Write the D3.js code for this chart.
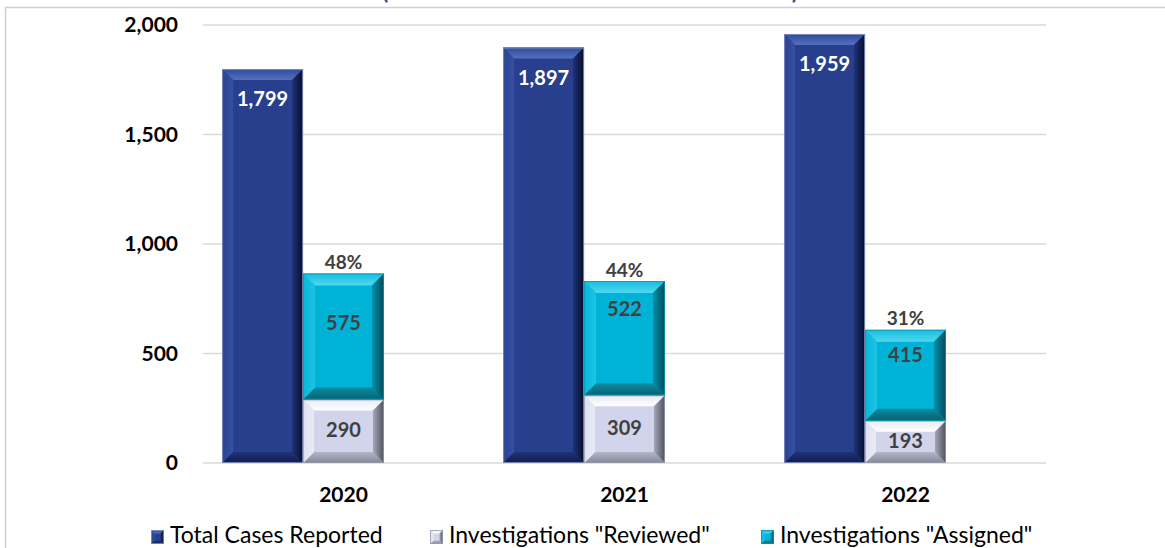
<!DOCTYPE html>
<html>
<head>
<meta charset="utf-8">
<script src="https://cdn.jsdelivr.net/npm/d3@7"></script>
<style>
  body { margin: 0; background: #fff; }
  text { font-family: Lato, 'Open Sans', sans-serif; }
</style>
</head>
<body>
<div id="chart"></div>
<script>
const width = 1165;
const height = 548;

// data
const years = ['2020', '2021', '2022'];
const totalCases = [1799, 1897, 1959];
const reviewed = [290, 309, 193];
const assigned = [575, 522, 415];
const yTicks = [0, 500, 1000, 1500, 2000];
const seriesNames = ['Total Cases Reported', 'Investigations "Reviewed"', 'Investigations "Assigned"'];

// where the "assigned" labels sit, px below the top of the segment
const assignedLabelOffset = [48, 27, 24];

const palettes = [
  {id: 'tot', face: '#283f8e', top: ['#2f4a9c', '#5470bd'], left: ['#2a4393', '#3550a2'], right: ['#070d2c', '#1e3276'], bottom: ['#101c4e', '#1f3478'], stroke: '#8e98c2'},
  {id: 'rev', face: '#d1d4ea', top: ['#e9ebf6', '#ffffff'], left: ['#dfe1f1', '#e8eaf5'], right: ['#4e505c', '#a6a8b8'], bottom: ['#85879a', '#b3b5c8'], stroke: '#9a9cab'},
  {id: 'asg', face: '#00b3d6', top: ['#14bfe0', '#52d6f0'], left: ['#07b8db', '#1cc3e3'], right: ['#004b5a', '#0590ac'], bottom: ['#07606f', '#0b8ca3'], stroke: '#0a98b5'}
];

let svg = d3.select('#chart').append('svg')
    .attr('width', width)
    .attr('height', height);

let defs = svg.append('defs');

palettes.forEach(p => {
  gradient(p.id + '-top', 0, 0, 0, 1, p.top);
  gradient(p.id + '-bottom', 0, 1, 0, 0, p.bottom);
  gradient(p.id + '-left', 0, 0, 1, 0, p.left);
  gradient(p.id + '-right', 1, 0, 0, 0, p.right);
});

function gradient(id, x1, y1, x2, y2, stops) {
  let g = defs.append('linearGradient').attr('id', id)
      .attr('x1', x1).attr('y1', y1).attr('x2', x2).attr('y2', y2);
  g.append('stop').attr('offset', 0).attr('stop-color', stops[0]);
  g.append('stop').attr('offset', 1).attr('stop-color', stops[1]);
}

// chart frame (title is cut off above the window)
svg.append('rect')
    .attr('x', 5.5).attr('y', 7.5)
    .attr('width', width + 10).attr('height', height + 10)
    .attr('fill', 'none')
    .attr('stroke', '#d0d0d0')
    .attr('stroke-width', 1.5);

svg.append('g')
    .selectAll('text')
    .data(['(', ')'])
    .enter()
    .append('text')
    .attr('x', (d, i) => i ? 795 : 385)
    .attr('y', -1)
    .attr('text-anchor', 'middle')
    .attr('font-size', 24)
    .attr('font-weight', 'bold')
    .attr('fill', '#2f5597')
    .text(d => d);

let x = d3.scaleBand().domain(years).range([203, 1046]);
let y = d3.scaleLinear().domain([0, 2000]).range([463, 25]);

let bw = x.bandwidth();
let barW = bw * 0.288;
let barOff = bw * 0.068;

// gridlines
svg.append('g')
    .selectAll('line')
    .data(yTicks)
    .enter()
    .append('line')
    .attr('x1', x.range()[0])
    .attr('x2', x.range()[1])
    .attr('y1', d => y(d))
    .attr('y2', d => y(d))
    .attr('stroke', '#d9d9d9')
    .attr('stroke-width', 1.5);

let yAxis = svg.append('g')
    .attr('transform', 'translate(' + (x.range()[0] - 25) + ',0)')
    .call(d3.axisLeft(y).tickValues(yTicks).tickFormat(d3.format(',')).tickSize(0).tickPadding(0));
yAxis.select('.domain').remove();
yAxis.selectAll('text')
    .attr('font-family', 'Lato, sans-serif')
    .attr('font-size', 21)
    .attr('font-weight', 'bold')
    .attr('fill', '#000');

let xAxis = svg.append('g')
    .attr('transform', 'translate(0,' + y(0) + ')')
    .call(d3.axisBottom(x).tickSize(0).tickPadding(24));
xAxis.select('.domain').remove();
xAxis.selectAll('text')
    .attr('font-family', 'Lato, sans-serif')
    .attr('font-size', 21)
    .attr('font-weight', 'bold')
    .attr('fill', '#000');

function bevelBox(g, bx, by, w, h, b, p) {
  b = Math.min(b, h / 2.5, w / 2.5);
  g.append('rect').attr('x', bx).attr('y', by).attr('width', w).attr('height', h).attr('fill', p.face);
  let sides = [
    ['top', [[bx, by], [bx + w, by], [bx + w - b, by + b], [bx + b, by + b]]],
    ['bottom', [[bx, by + h], [bx + w, by + h], [bx + w - b, by + h - b], [bx + b, by + h - b]]],
    ['left', [[bx, by], [bx + b, by + b], [bx + b, by + h - b], [bx, by + h]]],
    ['right', [[bx + w, by], [bx + w - b, by + b], [bx + w - b, by + h - b], [bx + w, by + h]]]
  ];
  sides.forEach(s => {
    g.append('polygon')
        .attr('points', s[1].map(pt => pt.join(',')).join(' '))
        .attr('fill', 'url(#' + p.id + '-' + s[0] + ')');
  });
  g.append('rect').attr('x', bx + 0.5).attr('y', by + 0.5).attr('width', w - 1).attr('height', h - 1)
      .attr('fill', 'none').attr('stroke', p.stroke).attr('stroke-width', 1).attr('stroke-opacity', 0.8);
}

let bars = svg.append('g');

years.forEach((yr, i) => {
  let x0 = x(yr) + barOff;
  let x1 = x0 + barW;

  bevelBox(bars, x0, y(totalCases[i]), barW, y(0) - y(totalCases[i]), 11, palettes[0]);
  bevelBox(bars, x1, y(reviewed[i]), barW, y(0) - y(reviewed[i]), 11, palettes[1]);
  bevelBox(bars, x1, y(reviewed[i] + assigned[i]), barW, y(reviewed[i]) - y(reviewed[i] + assigned[i]), 12, palettes[2]);
});

let labels = svg.append('g')
    .attr('font-size', 20)
    .attr('font-weight', 'bold')
    .attr('text-anchor', 'middle')
    .attr('dominant-baseline', 'central');

years.forEach((yr, i) => {
  let cx0 = x(yr) + barOff + barW / 2;
  let cx1 = cx0 + barW;
  let stackTop = reviewed[i] + assigned[i];

  labels.append('text').attr('x', cx0).attr('y', y(totalCases[i]) + 29)
      .attr('fill', '#fff').text(d3.format(',')(totalCases[i]));
  labels.append('text').attr('x', cx1).attr('y', (y(0) + y(reviewed[i])) / 2 - 2)
      .attr('fill', '#404040').text(reviewed[i]);
  labels.append('text').attr('x', cx1).attr('y', y(stackTop) + assignedLabelOffset[i])
      .attr('fill', '#404040').text(assigned[i]);
  labels.append('text').attr('x', cx1).attr('y', y(stackTop) - 12)
      .attr('font-size', 19)
      .attr('fill', '#404040').text(Math.round(stackTop / totalCases[i] * 100) + '%');
});

// legend
let legendX = [151, 430, 761];
let legend = svg.append('g')
    .selectAll('g')
    .data(seriesNames)
    .enter()
    .append('g')
    .attr('transform', (d, i) => 'translate(' + legendX[i] + ',530)');

legend.each(function (d, i) {
  bevelBox(d3.select(this), 0, 0, 13, 14, 3.5, palettes[i]);
});

legend.append('text')
    .attr('x', 19)
    .attr('y', 4)
    .attr('dominant-baseline', 'central')
    .attr('font-size', 23)
    .attr('fill', '#000')
    .text(d => d);
</script>
</body>
</html>
